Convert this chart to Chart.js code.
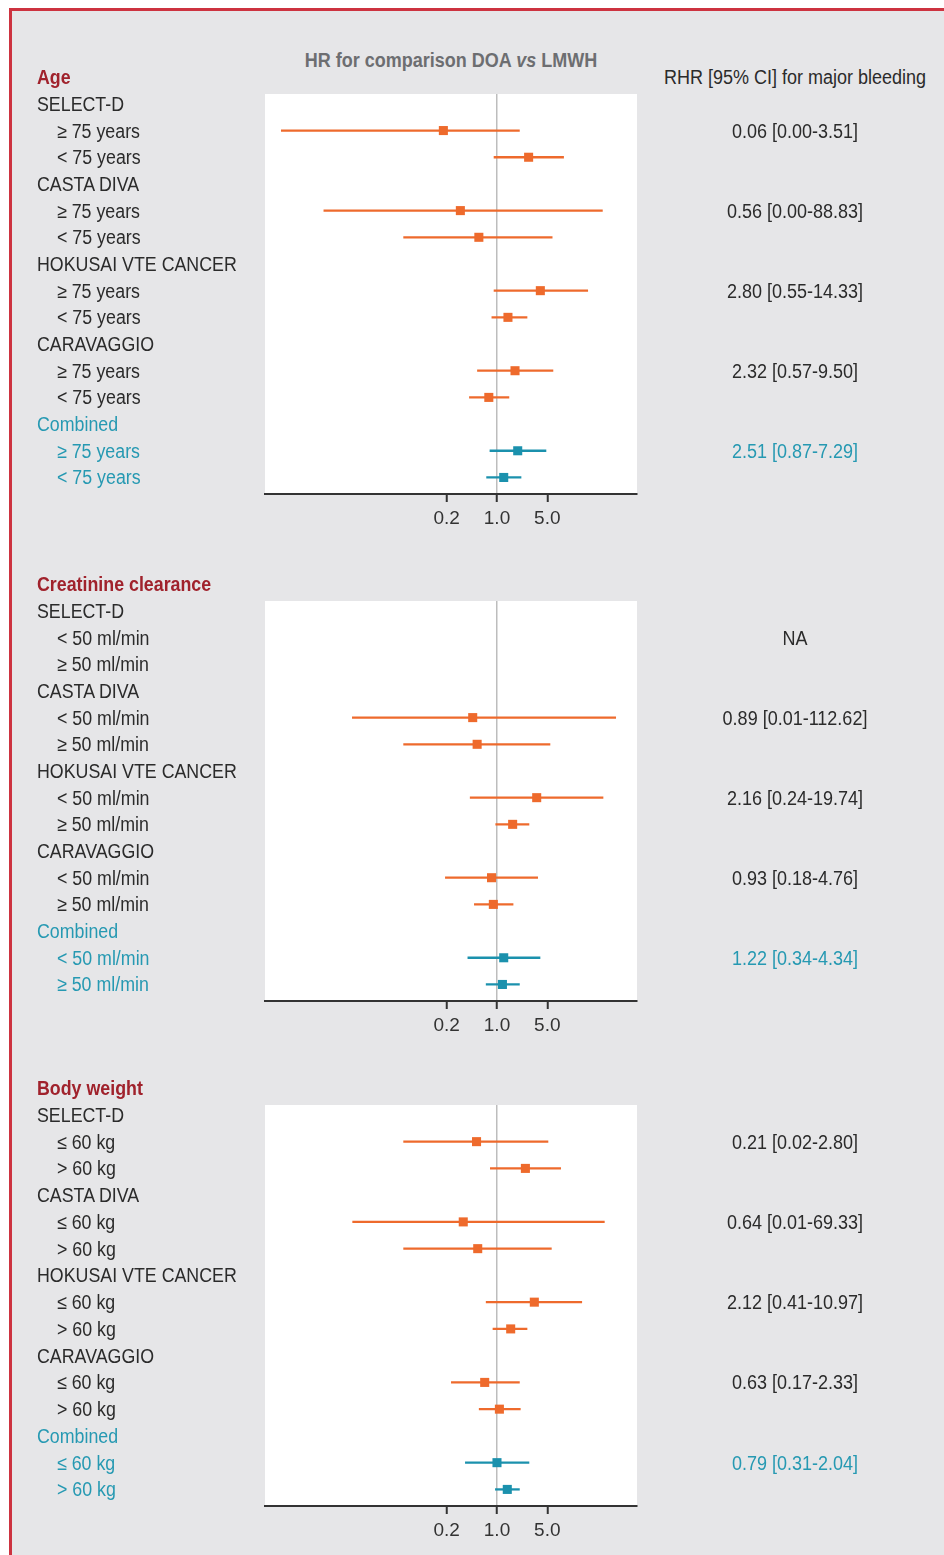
<!DOCTYPE html>
<html>
<head>
<meta charset="utf-8">
<script src="https://cdn.jsdelivr.net/npm/chart.js@4.4.1/dist/chart.umd.min.js"></script>
<style>
  html, body { margin: 0; padding: 0; background: #fff; }
  #page { position: relative; width: 944px; height: 1555px; overflow: hidden;
    font-family: 'Liberation Sans', Arial, sans-serif; }
  #frame { position: absolute; left: 9px; top: 8px; right: 0; bottom: 0; background: #e6e6e8;
    border-left: 3px solid #cd3340; border-top: 3px solid #cd3340; }
  canvas { position: absolute; left: 0; }
  .txt { position: absolute; white-space: nowrap; font-size: 20px; line-height: 22px; color: #2b2b2b;
    transform: translateY(-50%) scaleX(0.89); transform-origin: 0 50%; }
  .txt.mid { transform: translate(-50%, -50%) scaleX(0.9); transform-origin: 50% 50%; }
  .title { color: #a0222c; font-weight: bold; }
  .comb { color: #2699b2; }
  .head { color: #6d6e71; font-weight: bold; font-size: 20px; }
  .rhead { font-size: 20px; }
</style>
</head>
<body>
<div id="page"><div id="frame"></div></div>
<script>
// ===== DATA =====
const trials = ['SELECT-D', 'CASTA DIVA', 'HOKUSAI VTE CANCER', 'CARAVAGGIO', 'Combined'];
const xTicks = [0.2, 1, 5];

// Age
const ageTitle = 'Age';
const ageGroups = ['≥ 75 years', '< 75 years'];
const ageHR   = [0.18, 2.75, 0.31, 0.56, 4.0, 1.42, 1.78, 0.77, 1.94, 1.24];
const ageLow  = [0.001, 0.90, 0.0039, 0.05, 0.90, 0.84, 0.53, 0.41, 0.79, 0.71];
const ageHigh = [2.07, 8.5, 29.4, 5.9, 18.4, 2.64, 6.05, 1.48, 4.84, 2.18];
const ageRHR  = ['0.06 [0.00-3.51]', '0.56 [0.00-88.83]', '2.80 [0.55-14.33]', '2.32 [0.57-9.50]', '2.51 [0.87-7.29]'];

// Creatinine clearance
const crclTitle = 'Creatinine clearance';
const crclGroups = ['< 50 ml/min', '≥ 50 ml/min'];
const crclHR   = [null, null, 0.46, 0.53, 3.56, 1.65, 0.84, 0.89, 1.24, 1.19];
const crclLow  = [null, null, 0.0097, 0.05, 0.42, 0.95, 0.19, 0.48, 0.39, 0.70];
const crclHigh = [null, null, 45, 5.5, 30, 2.81, 3.71, 1.69, 4.0, 2.07];
const crclRHR  = ['NA', '0.89 [0.01-112.62]', '2.16 [0.24-19.74]', '0.93 [0.18-4.76]', '1.22 [0.34-4.34]'];

// Body weight
const weightTitle = 'Body weight';
const weightGroups = ['≤ 60 kg', '> 60 kg'];
const weightHR   = [0.52, 2.48, 0.34, 0.54, 3.30, 1.55, 0.675, 1.08, 1.0, 1.39];
const weightLow  = [0.05, 0.80, 0.0098, 0.05, 0.70, 0.87, 0.23, 0.56, 0.36, 0.94];
const weightHigh = [5.16, 7.74, 31.3, 5.75, 15.2, 2.64, 2.07, 2.13, 2.81, 2.07];
const weightRHR  = ['0.21 [0.02-2.80]', '0.64 [0.01-69.33]', '2.12 [0.41-10.97]', '0.63 [0.17-2.33]', '0.79 [0.31-2.04]'];

// ===== LAYOUT =====
const ORANGE = '#ee6a2c';
const TEAL = '#1b91ad';
const PLOT_LEFT = 265, PLOT_RIGHT = 637;
const PAD_TOP = 10;
const page = document.getElementById('page');

const whiteArea = {
  id: 'whiteArea',
  beforeDraw(chart) {
    const a = chart.chartArea, c = chart.ctx;
    c.save();
    c.fillStyle = '#fff';
    c.fillRect(a.left, a.top, a.right - a.left, a.bottom - a.top);
    c.restore();
  }
};

function addText(text, x, y, cls) {
  const d = document.createElement('div');
  d.className = 'txt ' + (cls || '');
  d.textContent = text;
  d.style.left = x + 'px';
  d.style.top = y + 'px';
  page.appendChild(d);
  return d;
}

function rowOf(i) { return 2 + 3 * Math.floor(i / 2) + (i % 2); }

function buildPanel(top, height, title, groups, hr, low, high, rhr) {
  const canvas = document.createElement('canvas');
  canvas.width = 944;
  canvas.height = PAD_TOP + height + 50;
  canvas.style.top = (top - PAD_TOP) + 'px';
  page.appendChild(canvas);

  const pointData = [], pointColors = [], ciSets = [];
  hr.forEach((v, i) => {
    if (v == null) return;
    const col = Math.floor(i / 2) === trials.length - 1 ? TEAL : ORANGE;
    pointData.push({ x: v, y: rowOf(i) });
    pointColors.push(col);
    ciSets.push({
      data: [{ x: low[i], y: rowOf(i) }, { x: high[i], y: rowOf(i) }],
      showLine: true, borderColor: col, borderWidth: 2.3, pointRadius: 0
    });
  });

  const chart = new Chart(canvas, {
    type: 'scatter',
    data: {
      datasets: [{
        data: pointData,
        pointStyle: 'rect',
        pointRadius: 6.4,
        pointBackgroundColor: pointColors,
        pointBorderWidth: 0
      }].concat(ciSets)
    },
    options: {
      responsive: false,
      devicePixelRatio: 1,
      animation: false,
      layout: { padding: { top: PAD_TOP, left: PLOT_LEFT, right: 944 - PLOT_RIGHT, bottom: 0 } },
      plugins: { legend: { display: false }, tooltip: { enabled: false } },
      scales: {
        x: {
          type: 'logarithmic',
          min: 0.0006, max: 88,
          afterBuildTicks: s => { s.ticks = xTicks.map(v => ({ value: v })); },
          ticks: {
            callback: v => Number(v).toFixed(1),
            color: '#333', padding: 5, maxRotation: 0, autoSkip: false,
            font: { family: "'Liberation Sans', Arial, sans-serif", size: 19 }
          },
          grid: {
            color: ctx => ctx.tick && ctx.tick.value === 1 ? '#bdbdbd' : 'rgba(0,0,0,0)',
            lineWidth: 1.5, drawTicks: true, tickLength: 8, tickColor: '#333', tickWidth: 2
          },
          border: { display: true, color: '#333', width: 2 }
        },
        y: { type: 'linear', min: 0.63, max: 15.62, reverse: true, display: false }
      }
    },
    plugins: [whiteArea]
  });

  const diff = chart.chartArea.bottom - (PAD_TOP + height);
  if (Math.abs(diff) > 0.5) {
    chart.options.layout.padding.bottom = diff;
    chart.update();
  }

  const yPix = r => top - PAD_TOP + chart.scales.y.getPixelForValue(r);
  addText(title, 37, yPix(0), 'title');
  trials.forEach((t, k) => {
    const comb = k === trials.length - 1 ? 'comb' : '';
    addText(t, 37, yPix(1 + 3 * k), comb);
    groups.forEach((g, j) => addText(g, 57, yPix(2 + 3 * k + j), comb));
    addText(rhr[k], 795, yPix(2 + 3 * k), 'mid ' + comb);
  });
  return chart;
}

const head = addText('', 451, 60, 'mid head');
head.innerHTML = 'HR for comparison DOA <i>vs</i> LMWH';
addText('RHR [95% CI] for major bleeding', 795, 77, 'mid rhead');

buildPanel(94, 400, ageTitle, ageGroups, ageHR, ageLow, ageHigh, ageRHR);
buildPanel(601, 400, crclTitle, crclGroups, crclHR, crclLow, crclHigh, crclRHR);
buildPanel(1105, 401, weightTitle, weightGroups, weightHR, weightLow, weightHigh, weightRHR);
</script>
</body>
</html>
